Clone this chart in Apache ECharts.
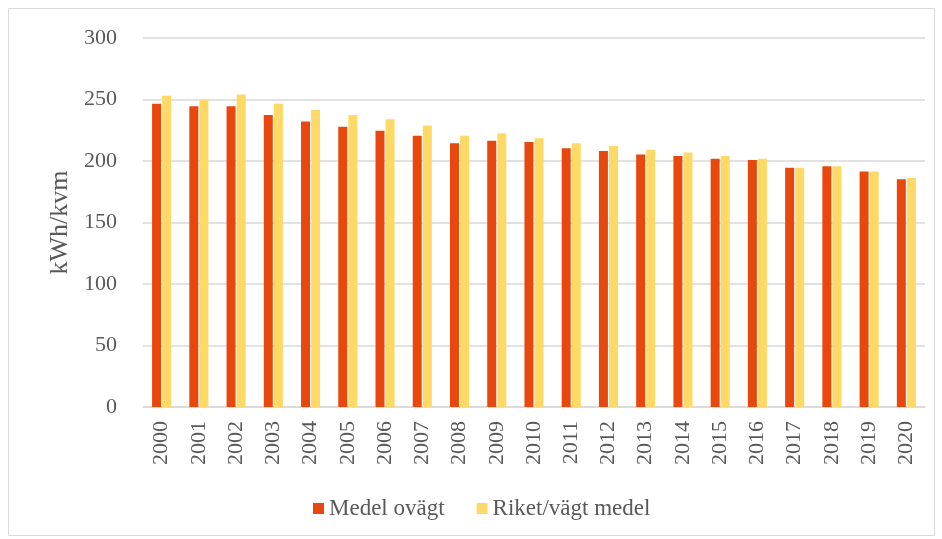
<!DOCTYPE html>
<html>
<head>
<meta charset="utf-8">
<script src="https://cdn.jsdelivr.net/npm/echarts@6/dist/echarts.min.js"></script>
<style>
html,body{margin:0;padding:0;background:#fff;}
#chart{width:942px;height:539px;}
</style>
</head>
<body>
<div id="chart"></div>
<script>
const years = ['2000','2001','2002','2003','2004','2005','2006','2007','2008','2009','2010','2011','2012','2013','2014','2015','2016','2017','2018','2019','2020'];
const medelOvagt = [246.5,244.6,244.6,237.3,232.2,227.8,224.5,220.5,214.4,216.5,215.4,210.3,208.1,205.2,204,201.9,200.8,194.6,195.7,191.4,185.2];
const riketVagt = [253,249.8,254,246.5,241.4,237.3,234,228.9,220.5,222.6,218.4,214.4,212.2,209.2,207,204,201.9,194.6,195.7,191.4,186.2];
const seriesNames = ['Medel ovägt','Riket/vägt medel'];
const yAxisName = 'kWh/kvm';

const font = '"Liberation Serif", "Times New Roman", serif';
const chart = echarts.init(document.getElementById('chart'), null, {renderer:'canvas'});
chart.setOption({
  animation:false,
  backgroundColor:'#fff',
  graphic:[{type:'rect',shape:{x:8.5,y:8.5,width:926,height:527},style:{fill:'none',stroke:'#d9d9d9',lineWidth:1}}],
  grid:{left:143,right:17,top:38,bottom:132,containLabel:false},
  legend:{
    top:492,left:308,itemWidth:11,itemHeight:11,itemGap:32,icon:'rect',
    textStyle:{fontFamily:font,fontSize:23,color:'#595959'},
    data:seriesNames
  },
  xAxis:{
    type:'category',data:years,
    axisLine:{lineStyle:{color:'#d9d9d9',width:1.5}},
    axisTick:{show:false},
    axisLabel:{rotate:90,margin:14,fontFamily:font,fontSize:22,color:'#595959'}
  },
  yAxis:{
    type:'value',min:0,max:300,interval:50,
    name:yAxisName,nameLocation:'middle',nameGap:70,
    nameTextStyle:{fontFamily:font,fontSize:26,color:'#595959'},
    axisLine:{show:false},axisTick:{show:false},
    axisLabel:{margin:26,fontFamily:font,fontSize:22,color:'#595959'},
    splitLine:{lineStyle:{color:'#d9d9d9',width:1.5}}
  },
  series:[
    {name:seriesNames[0],type:'bar',data:medelOvagt,barWidth:9,barGap:'12%',
     itemStyle:{color:'#E8470E'}},
    {name:seriesNames[1],type:'bar',data:riketVagt,barWidth:9,
     itemStyle:{color:'#FFD966'}}
  ]
});
</script>
</body>
</html>
